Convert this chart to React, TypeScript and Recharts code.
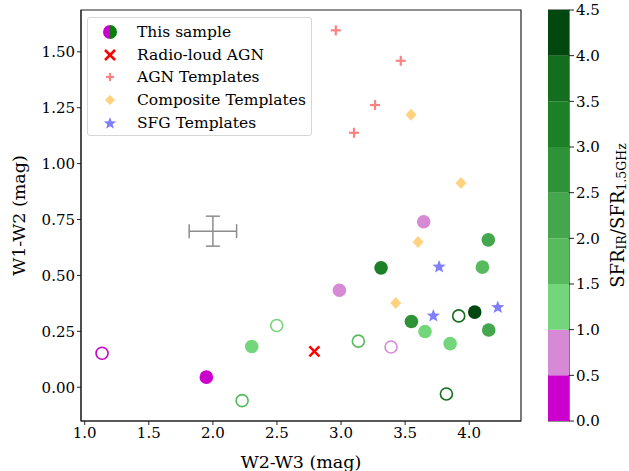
import React from "react";
import {
  ScatterChart,
  Scatter,
  XAxis,
  YAxis,
  ErrorBar,
  ReferenceArea,
  BarChart,
  Bar,
  Label,
} from "recharts";

// sample galaxies, filled = detected, open = other
const filledSample = [
  { x: 1.949, y: 0.045, ratio: 0.3 },
  { x: 2.303, y: 0.182, ratio: 1.2 },
  { x: 2.987, y: 0.434, ratio: 0.7 },
  { x: 3.312, y: 0.534, ratio: 3.2 },
  { x: 3.549, y: 0.294, ratio: 2.7 },
  { x: 3.645, y: 0.74, ratio: 0.8 },
  { x: 3.655, y: 0.249, ratio: 1.3 },
  { x: 3.851, y: 0.195, ratio: 1.2 },
  { x: 4.043, y: 0.336, ratio: 4.2 },
  { x: 4.103, y: 0.537, ratio: 1.8 },
  { x: 4.149, y: 0.659, ratio: 2.3 },
  { x: 4.152, y: 0.256, ratio: 2.2 },
];

const openSample = [
  { x: 1.135, y: 0.152, ratio: 0.2 },
  { x: 2.228, y: -0.06, ratio: 1.7 },
  { x: 2.498, y: 0.276, ratio: 1.1 },
  { x: 3.135, y: 0.206, ratio: 1.7 },
  { x: 3.39, y: 0.18, ratio: 0.6 },
  { x: 3.822, y: -0.03, ratio: 3.7 },
  { x: 3.918, y: 0.319, ratio: 3.8 },
];

const radioLoud = [{ x: 2.792, y: 0.16 }];

const agnTemplates = [
  { x: 2.959, y: 1.596 },
  { x: 3.466, y: 1.46 },
  { x: 3.265, y: 1.262 },
  { x: 3.101, y: 1.138 },
];

const compositeTemplates = [
  { x: 3.546, y: 1.218 },
  { x: 3.936, y: 0.913 },
  { x: 3.601, y: 0.649 },
  { x: 3.427, y: 0.377 },
];

const sfgTemplates = [
  { x: 3.765, y: 0.538 },
  { x: 3.72, y: 0.319 },
  { x: 4.223, y: 0.357 },
];

// typical uncertainty
const typicalError = [{ x: 2.0, y: 0.698, ex: 0.185, ey: 0.067 }];

const xTicks = [1.0, 1.5, 2.0, 2.5, 3.0, 3.5, 4.0];
const yTicks = [0, 0.25, 0.5, 0.75, 1.0, 1.25, 1.5];
const xDomain = [0.971, 4.404];
const yDomain = [-0.151, 1.687];

// colour bar
const cbTicks = [0, 0.5, 1.0, 1.5, 2.0, 2.5, 3.0, 3.5, 4.0, 4.5];
const cbColors = [
  "#cc00cc",
  "#d68ad6",
  "#74d67a",
  "#57bb5e",
  "#45a74d",
  "#2e9336",
  "#1c8027",
  "#136f1d",
  "#00480f",
];

const FONT = "DejaVu Serif";

const ratioColor = (r: number) => {
  const i = Math.min(cbColors.length - 1, Math.max(0, Math.floor(r / 0.5)));
  return cbColors[i];
};

const starPoints = (cx: number, cy: number, R: number, r: number) => {
  const pts: string[] = [];
  for (let i = 0; i < 10; i++) {
    const a = -Math.PI / 2 + (i * Math.PI) / 5;
    const rad = i % 2 === 0 ? R : r;
    pts.push(`${cx + rad * Math.cos(a)},${cy + rad * Math.sin(a)}`);
  }
  return pts.join(" ");
};

const FilledDot = (p: any) => (
  <circle cx={p.cx} cy={p.cy} r={6.8} fill={ratioColor(p.payload.ratio)} />
);
const OpenDot = (p: any) => (
  <circle cx={p.cx} cy={p.cy} r={6} fill="none" stroke={ratioColor(p.payload.ratio)} strokeWidth={1.6} />
);
const Cross = (p: any) => (
  <g stroke="#ff0000" strokeWidth={2.5}>
    <line x1={p.cx - 5} y1={p.cy - 5} x2={p.cx + 5} y2={p.cy + 5} />
    <line x1={p.cx - 5} y1={p.cy + 5} x2={p.cx + 5} y2={p.cy - 5} />
  </g>
);
const Plus = (p: any) => (
  <g stroke="#ff8080" strokeWidth={2.2}>
    <line x1={p.cx - 5} y1={p.cy} x2={p.cx + 5} y2={p.cy} />
    <line x1={p.cx} y1={p.cy - 5} x2={p.cx} y2={p.cy + 5} />
  </g>
);
const Diamond = (p: any) => (
  <polygon
    points={`${p.cx},${p.cy - 6} ${p.cx + 5.5},${p.cy} ${p.cx},${p.cy + 6} ${p.cx - 5.5},${p.cy}`}
    fill="#ffd280"
  />
);
const Star = (p: any) => <polygon points={starPoints(p.cx, p.cy, 7, 3)} fill="#8080ff" />;
const NoDot = () => <g />;

const legendItems = [
  { label: "This sample", icon: "half" },
  { label: "Radio-loud AGN", icon: "x" },
  { label: "AGN Templates", icon: "plus" },
  { label: "Composite Templates", icon: "diamond" },
  { label: "SFG Templates", icon: "star" },
];

const LegendIcon = ({ icon }: { icon: string }) => {
  const c = { cx: 10, cy: 10 };
  return (
    <svg width={20} height={20}>
      {icon === "half" && (
        <g>
          <path d="M10,3 A7,7 0 0 0 10,17 Z" fill="#cc00cc" />
          <path d="M10,3 A7,7 0 0 1 10,17 Z" fill="#0a7d0a" />
        </g>
      )}
      {icon === "x" && <Cross {...c} />}
      {icon === "plus" && (
        <g stroke="#ff8080" strokeWidth={2.2}>
          <line x1={6} y1={10} x2={14} y2={10} />
          <line x1={10} y1={6} x2={10} y2={14} />
        </g>
      )}
      {icon === "diamond" && <polygon points="10,5 15,10 10,15 5,10" fill="#ffd280" />}
      {icon === "star" && <polygon points={starPoints(10, 10.5, 6.5, 2.8)} fill="#8080ff" />}
    </svg>
  );
};

export default function App() {
  const cbRow: Record<string, number | string> = { name: "cb" };
  cbColors.forEach((_, i) => (cbRow[`b${i}`] = cbTicks[i + 1] - cbTicks[i]));

  return (
    <div style={{ position: "absolute", left: 0, top: 0, width: 629, height: 471, background: "#fff" }}>
      <ScatterChart width={629} height={471} margin={{ top: 10, right: 108, bottom: 0, left: 0 }}>
        <XAxis
          type="number"
          dataKey="x"
          domain={xDomain}
          ticks={xTicks}
          allowDataOverflow
          height={50}
          tickSize={4}
          tickFormatter={(v: number) => v.toFixed(1)}
          tick={{ fontFamily: FONT, fontSize: 15, fill: "#000" }}
          stroke="#222"
        >
          <Label
            value="W2-W3 (mag)"
            position="insideBottom"
            offset={3}
            style={{ fontFamily: FONT, fontSize: 17.5, fill: "#000" }}
          />
        </XAxis>
        <YAxis
          type="number"
          dataKey="y"
          domain={yDomain}
          ticks={yTicks}
          allowDataOverflow
          width={81}
          tickSize={4}
          tickFormatter={(v: number) => v.toFixed(2)}
          tick={{ fontFamily: FONT, fontSize: 15, fill: "#000" }}
          stroke="#222"
        >
          <Label
            content={({ viewBox }: any) => (
              <text
                x={viewBox.x + 19}
                y={viewBox.y + viewBox.height / 2}
                transform={`rotate(-90 ${viewBox.x + 19} ${viewBox.y + viewBox.height / 2})`}
                textAnchor="middle"
                dominantBaseline="central"
                fontFamily={FONT}
                fontSize={17.5}
                fill="#000"
              >
                W1-W2 (mag)
              </text>
            )}
          />
        </YAxis>
        <ReferenceArea
          x1={xDomain[0]}
          x2={xDomain[1]}
          y1={yDomain[0]}
          y2={yDomain[1]}
          fill="none"
          stroke="#222"
          strokeWidth={1.2}
          ifOverflow="visible"
        />
        <Scatter data={typicalError} shape={NoDot} isAnimationActive={false}>
          <ErrorBar dataKey="ex" direction="x" width={7} stroke="#8c8c8c" strokeWidth={1.5} />
          <ErrorBar dataKey="ey" direction="y" width={7} stroke="#8c8c8c" strokeWidth={1.5} />
        </Scatter>
        <Scatter data={agnTemplates} shape={Plus} isAnimationActive={false} />
        <Scatter data={compositeTemplates} shape={Diamond} isAnimationActive={false} />
        <Scatter data={sfgTemplates} shape={Star} isAnimationActive={false} />
        <Scatter data={radioLoud} shape={Cross} isAnimationActive={false} />
        <Scatter data={openSample} shape={OpenDot} isAnimationActive={false} />
        <Scatter data={filledSample} shape={FilledDot} isAnimationActive={false} />
      </ScatterChart>

      <div
        style={{
          position: "absolute",
          left: 87,
          top: 17,
          width: 225,
          height: 119,
          boxSizing: "border-box",
          border: "1px solid #d6d6d6",
          borderRadius: 3,
          background: "rgba(255,255,255,0.8)",
          paddingTop: 3,
          fontFamily: '"DejaVu Serif", serif',
          fontSize: 15.5,
          color: "#000",
        }}
      >
        {legendItems.map((it) => (
          <div key={it.label} style={{ display: "flex", alignItems: "center", height: 22.6 }}>
            <div style={{ width: 20, height: 20, marginLeft: 12, marginRight: 17 }}>
              <LegendIcon icon={it.icon} />
            </div>
            <span style={{ whiteSpace: "nowrap" }}>{it.label}</span>
          </div>
        ))}
      </div>

      <div style={{ position: "absolute", left: 548, top: 0 }}>
        <BarChart
          width={81}
          height={471}
          data={[cbRow]}
          margin={{ top: 10, right: 0, bottom: 50, left: 0 }}
          barCategoryGap={0}
        >
          <XAxis dataKey="name" hide />
          <YAxis
            orientation="right"
            type="number"
            domain={[0, 4.5]}
            ticks={cbTicks}
            width={60}
            tickSize={5}
            axisLine={false}
            tickFormatter={(v: number) => v.toFixed(1)}
            tick={{ fontFamily: FONT, fontSize: 15, fill: "#000" }}
            stroke="#222"
          >
            <Label
              content={({ viewBox }: any) => {
                const cx = viewBox.x + 48;
                const cy = viewBox.y + viewBox.height / 2;
                return (
                  <text
                    x={cx}
                    y={cy}
                    transform={`rotate(-90 ${cx} ${cy})`}
                    textAnchor="middle"
                    dominantBaseline="central"
                    fontFamily={FONT}
                    fontSize={18}
                    fill="#000"
                  >
                    SFR
                    <tspan fontSize={12.5} dy={3.5}>IR</tspan>
                    <tspan dy={-3.5}>/SFR</tspan>
                    <tspan fontSize={12.5} dy={3.5}>1.5GHz</tspan>
                  </text>
                );
              }}
            />
          </YAxis>
          {cbColors.map((c, i) => (
            <Bar key={c} dataKey={`b${i}`} stackId="cb" fill={c} isAnimationActive={false} />
          ))}
          <ReferenceArea y1={0} y2={4.5} fill="none" stroke="#222" strokeWidth={1.2} ifOverflow="visible" />
        </BarChart>
      </div>
    </div>
  );
}
